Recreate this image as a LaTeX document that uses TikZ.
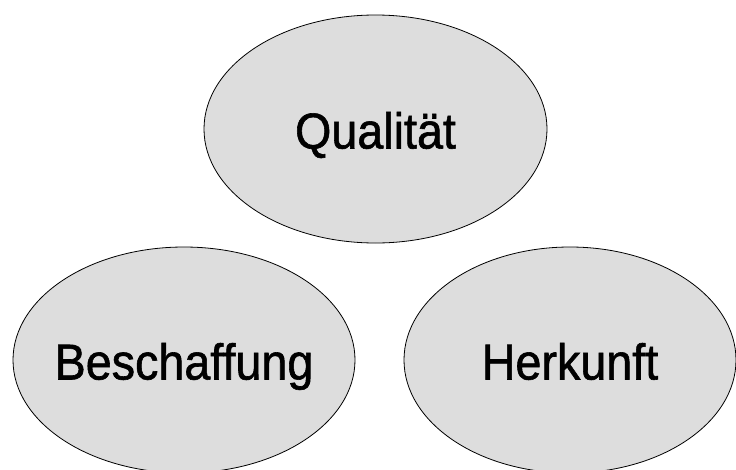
\documentclass[tikz,border=0pt]{standalone}
\usepackage{fontspec}
\setmainfont{Liberation Sans}
\newfontfamily\bubblefont[FakeBold=1.2]{Liberation Sans}
\usetikzlibrary{shapes.geometric}
\definecolor{bubblegray}{RGB}{221,221,221}
\newcommand{\bubbletext}[1]{\makebox[0pt]{\scalebox{1}[1.08]{#1}}}
\begin{document}
\begin{tikzpicture}[x=1pt,y=-1pt,
  bubble/.style={ellipse, draw=black, line width=0.8pt, fill=bubblegray,
    inner sep=0pt, outer sep=0pt,
    font=\bubblefont\fontsize{46.7}{50}\selectfont, text height=39pt, text depth=0pt}]
\useasboundingbox (0,0) rectangle (736,469);
\node[bubble, minimum width=343pt, minimum height=228pt] (q) at (375.5,129) {\bubbletext{Qualität}};
\node[bubble, minimum width=342pt, minimum height=226pt] (b) at (184,360) {\bubbletext{Beschaffung}};
\node[bubble, minimum width=332pt, minimum height=226pt] (h) at (570,360) {\bubbletext{Herkunft}};
\end{tikzpicture}
\end{document}
